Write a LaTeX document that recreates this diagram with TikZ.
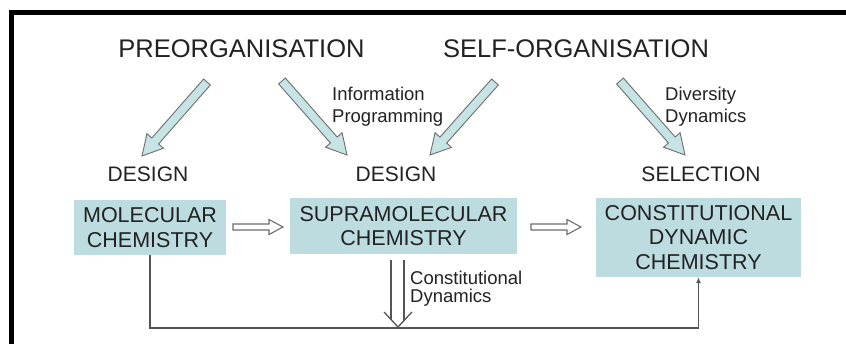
\documentclass[tikz,border=0pt]{standalone}
\usepackage{fontspec}
\setmainfont{Liberation Sans}
\usetikzlibrary{calc,arrows.meta}
\definecolor{boxfill}{HTML}{BCDCDF}
\definecolor{arrfill}{HTML}{C6E3E5}
\definecolor{arrline}{HTML}{6E6E6E}
\definecolor{txt}{HTML}{222222}
\definecolor{linec}{HTML}{555555}
% #1 style, #2 start, #3 tip, #4 half shaft, #5 half head, #6 head length
\newcommand{\fatarrow}[6][]{%
  \draw[#1] ($(#2)!#4!90:(#3)$) -- ($(#3)!#6!(#2)!#4!-90:(#2)$) -- ($(#3)!#6!(#2)!#5!-90:(#2)$) -- (#3)
    -- ($(#3)!#6!(#2)!#5!90:(#2)$) -- ($(#3)!#6!(#2)!#4!90:(#2)$) -- ($(#2)!#4!-90:(#3)$) -- cycle;}
\tikzset{
  title/.style={font=\fontsize{25.5}{30}\selectfont, text=txt, anchor=base, inner sep=0pt},
  label/.style={font=\fontsize{21}{25}\selectfont, text=txt, anchor=base, inner sep=0pt},
  small/.style={font=\fontsize{18.5}{22}\selectfont, text=txt, anchor=base west, inner sep=0pt},
  chembox/.style={fill=boxfill, draw=none, align=center, inner sep=0pt,
     font=\fontsize{21.5}{24.5}\selectfont, text=txt},
  blue arrow/.style={draw=arrline, fill=arrfill, line width=0.9pt, line join=miter},
  hollow arrow/.style={draw=arrline, fill=white, line width=1.1pt, line join=miter},
  link/.style={draw=linec, line width=1.5pt},
}
\begin{document}
\begin{tikzpicture}[x=1pt, y=-1pt]
\useasboundingbox (0,0) rectangle (846,343);
\fill[white] (0,0) rectangle (846,343);
% frame
\draw[line width=5pt] (11.5,360) -- (11.5,12.5) -- (860,12.5);

% titles
\node[title] (pre) at (241.5,57) {PREORGANISATION};
\node[title] (self) at (576,57) {SELF-ORGANISATION};

% labels
\node[label] (d1) at (148,181) {DESIGN};
\node[label] (d2) at (396,181) {DESIGN};
\node[label] (sel) at (701,181) {SELECTION};

\node[small] (info) at (332,100) {Information};
\node[small] (prog) at (332,122) {Programming};
\node[small] (div) at (665,100) {Diversity};
\node[small] (dyn) at (665,122) {Dynamics};
\node[small] (cons) at (410,284) {Constitutional};
\node[small] (cdyn) at (410,302) {Dynamics};

% boxes
\node[chembox, minimum width=152pt, minimum height=55pt] (mol) at (150,227.5) {MOLECULAR\\CHEMISTRY};
\node[chembox, minimum width=227pt, minimum height=56pt] (supra) at (403.5,226) {SUPRAMOLECULAR\\CHEMISTRY};
\node[chembox, minimum width=205pt, minimum height=79pt] (cdc) at (698.5,237.5) {CONSTITUTIONAL\\DYNAMIC\\CHEMISTRY};

% blue arrows
\coordinate (a1s) at (207,82);  \coordinate (a1e) at (142,156);
\coordinate (a2s) at (282,81);  \coordinate (a2e) at (347,155);
\coordinate (a3s) at (495,82);  \coordinate (a3e) at (430,155);
\coordinate (a4s) at (620,81);  \coordinate (a4e) at (685,155);
\fatarrow[blue arrow]{a1s}{a1e}{4.5pt}{11pt}{20pt}
\fatarrow[blue arrow]{a2s}{a2e}{4.5pt}{11pt}{20pt}
\fatarrow[blue arrow]{a3s}{a3e}{4.5pt}{11pt}{20pt}
\fatarrow[blue arrow]{a4s}{a4e}{4.5pt}{11pt}{20pt}

% hollow arrows
\coordinate (h1s) at (233,227); \coordinate (h1e) at (283,227);
\coordinate (h2s) at (531,227); \coordinate (h2e) at (581,227);
\fatarrow[hollow arrow]{h1s}{h1e}{3pt}{7.5pt}{14pt}
\fatarrow[hollow arrow]{h2s}{h2e}{3pt}{7.5pt}{14pt}

% double down arrow
\coordinate (dl1) at (391,260); \coordinate (dl2) at (391,320);
\coordinate (dr1) at (404,260); \coordinate (dr2) at (404,321);
\coordinate (vl) at (384,312); \coordinate (vt) at (398,327); \coordinate (vr) at (412,312);
\draw[link, line width=1.3pt] (dl1) -- (dl2);
\draw[link, line width=1.3pt] (dr1) -- (dr2);
\draw[link, line width=1.3pt] (vl) -- (vt) -- (vr);

% feedback line
\coordinate (fb) at (150,328);
\draw[link, -{Latex[length=6pt,width=5pt]}] (mol.south) -- (fb) -| (cdc.south);
\end{tikzpicture}
\end{document}
